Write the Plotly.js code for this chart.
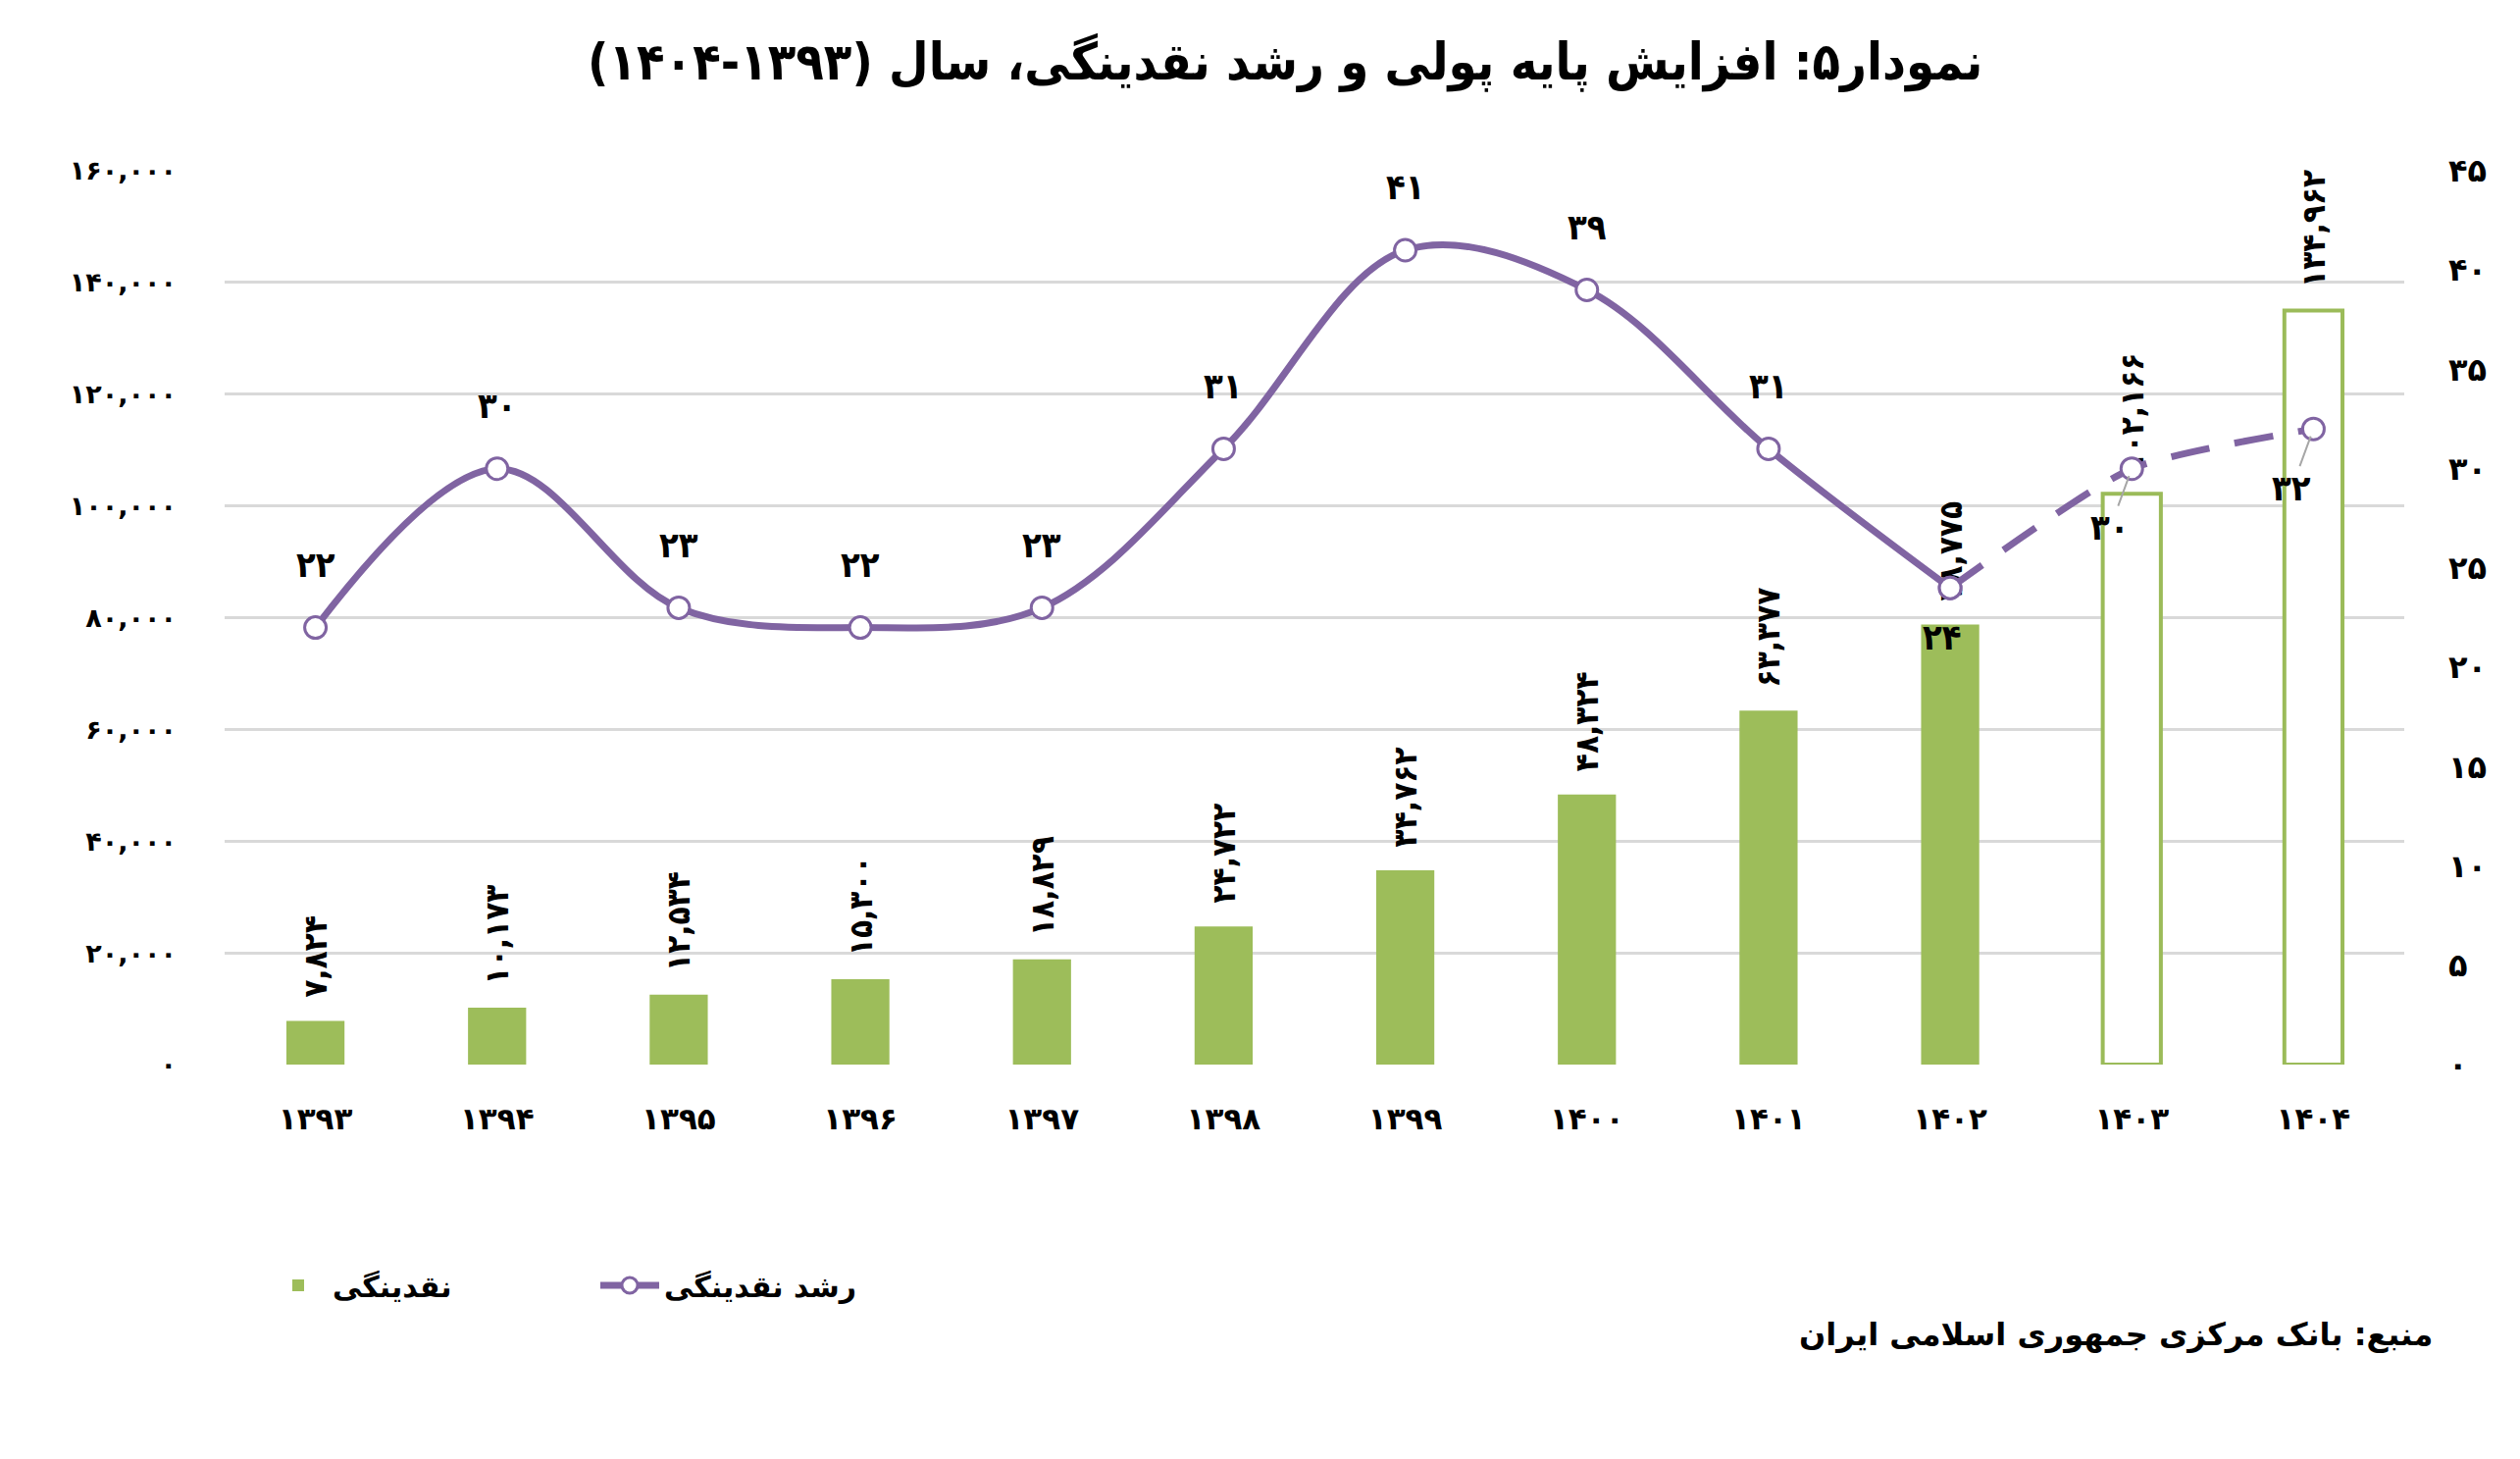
<!DOCTYPE html>
<html>
<head>
<meta charset="utf-8">
<script src="https://cdn.plot.ly/plotly-3.0.1.min.js"></script>
<style>
  html, body { margin: 0; padding: 0; background: #ffffff; }
  #chart { width: 2569px; height: 1487px; }
</style>
</head>
<body>
<div id="chart"></div>
<script>
    /****************************************************************************************
    * Data
    ****************************************************************************************/
    // years (solar hijri), shown in persian digits
    const years = ['۱۳۹۳', '۱۳۹۴', '۱۳۹۵', '۱۳۹۶', '۱۳۹۷', '۱۳۹۸', '۱۳۹۹', '۱۴۰۰', '۱۴۰۱', '۱۴۰۲', '۱۴۰۳', '۱۴۰۴'];
    // liquidity (thousand billion rials)
    const liquidity = [7824, 10173, 12534, 15300, 18829, 24722, 34762, 48324, 63377, 78775, 102166, 134962];
    // liquidity growth (percent)
    const growth = [22, 30, 23, 22, 23, 31, 41, 39, 31, 24, 30, 32];
    // index of the first forecast year (1403 onward)
    const firstForecast = 10;

    // axis ticks
    const leftTickVals = [0, 20000, 40000, 60000, 80000, 100000, 120000, 140000, 160000];
    const leftTickText = ['۰', '۲۰,۰۰۰', '۴۰,۰۰۰', '۶۰,۰۰۰', '۸۰,۰۰۰', '۱۰۰,۰۰۰', '۱۲۰,۰۰۰', '۱۴۰,۰۰۰', '۱۶۰,۰۰۰'];
    const rightTickVals = [0, 5, 10, 15, 20, 25, 30, 35, 40, 45];
    const rightTickText = ['۰', '۵', '۱۰', '۱۵', '۲۰', '۲۵', '۳۰', '۳۵', '۴۰', '۴۵'];

    // the year span is written so that it reads 1404-1393 on screen, as in the source
    const titleText = 'نمودار۵: افزایش پایه پولی و رشد نقدینگی، سال (۱۳۹۳-۱۴۰۴)';
    const barName = 'نقدینگی';
    const lineName = 'رشد نقدینگی';
    const sourceText = 'منبع: بانک مرکزی جمهوری اسلامی ایران';

    /****************************************************************************************
    * Helpers
    ****************************************************************************************/
    const FA_DIGITS = '۰۱۲۳۴۵۶۷۸۹';
    // convert latin digits to persian ones
    const toFa = (s) => String(s).replace(/[0-9]/g, (d) => FA_DIGITS[+d]);
    const fmt = (v) => toFa(v.toLocaleString('en-US'));

    const FONT = 'DejaVu Sans, sans-serif';
    const FONT_NARROW = 'DejaVu Sans Condensed, DejaVu Sans, sans-serif';
    const GREEN = '#9dbd5a';
    const GREEN_EDGE = '#9bbb59';
    const PURPLE = '#8064a2';

    /****************************************************************************************
    * Traces
    ****************************************************************************************/
    let barTrace = {
        type: 'bar',
        name: barName,
        x: years,
        y: liquidity,
        width: 0.32,
        text: liquidity.map((v) => '  ' + fmt(v)),
        textposition: 'outside',
        textangle: -90,
        constraintext: 'none',
        cliponaxis: false,
        textfont: { family: FONT_NARROW, size: 33, color: '#000000', weight: 'bold' },
        marker: {
            color: liquidity.map((v, i) => i >= firstForecast ? '#ffffff' : GREEN),
            line: {
                color: GREEN_EDGE,
                width: liquidity.map((v, i) => i >= firstForecast ? 4 : 0)
            }
        },
        yaxis: 'y',
        hoverinfo: 'skip'
    };

    let solidLine = {
        type: 'scatter',
        name: lineName,
        x: years.slice(0, firstForecast),
        y: growth.slice(0, firstForecast),
        mode: 'lines+markers',
        line: { color: PURPLE, width: 7, shape: 'spline', smoothing: 1 },
        marker: { size: 22, color: '#ffffff', line: { color: PURPLE, width: 3 } },
        yaxis: 'y2',
        cliponaxis: false,
        hoverinfo: 'skip'
    };

    let dashedLine = {
        type: 'scatter',
        name: lineName,
        showlegend: false,
        x: years.slice(firstForecast - 1),
        y: growth.slice(firstForecast - 1),
        mode: 'lines+markers',
        line: { color: PURPLE, width: 7, shape: 'spline', smoothing: 0.6, dash: '40px,26px' },
        marker: { size: 22, color: '#ffffff', line: { color: PURPLE, width: 3 } },
        yaxis: 'y2',
        cliponaxis: false,
        hoverinfo: 'skip'
    };

    /****************************************************************************************
    * Annotations: growth labels and source
    ****************************************************************************************/
    let annotations = growth.map((g, i) => {
        let a = {
            x: years[i],
            y: g,
            xref: 'x',
            yref: 'y2',
            text: toFa(g),
            font: { family: FONT_NARROW, size: 36, color: '#000000', weight: 'bold' },
            showarrow: false,
            yanchor: 'middle',
            yshift: 64
        };
        if (i === firstForecast - 1) {
            a.yshift = -50;
            a.xshift = -8;
        } else if (i >= firstForecast) {
            a.showarrow = true;
            a.arrowhead = 0;
            a.arrowwidth = 2;
            a.arrowcolor = '#a6a6a6';
            a.standoff = 8;
            a.ax = -22;
            a.ay = 60;
            delete a.yshift;
        }
        return a;
    });

    annotations.push({
        xref: 'paper',
        yref: 'paper',
        x: 1.014,
        y: -0.302,
        xanchor: 'right',
        yanchor: 'middle',
        text: sourceText,
        showarrow: false,
        font: { family: FONT, size: 32, color: '#000000', weight: 'bold' }
    });

    /****************************************************************************************
    * Layout
    ****************************************************************************************/
    let layout = {
        width: 2569,
        height: 1487,
        paper_bgcolor: '#ffffff',
        plot_bgcolor: '#ffffff',
        margin: { l: 229, r: 118, t: 174, b: 402 },
        showlegend: true,
        bargap: 0,
        title: {
            text: titleText,
            x: 0.51,
            xanchor: 'center',
            y: 0.958,
            yanchor: 'middle',
            font: { family: FONT_NARROW, size: 52, color: '#000000', weight: 'bold' }
        },
        xaxis: {
            type: 'category',
            range: [-0.5, years.length - 0.5],
            showgrid: false,
            showline: false,
            zeroline: false,
            ticks: '',
            ticklabelstandoff: 34,
            tickfont: { family: FONT, size: 31, color: '#000000', weight: 'bold' }
        },
        yaxis: {
            range: [0, 160000],
            tickvals: leftTickVals,
            ticktext: leftTickText,
            showgrid: true,
            gridcolor: '#d9d9d9',
            gridwidth: 3,
            zeroline: false,
            showline: false,
            ticks: '',
            ticklabelstandoff: 48,
            tickfont: { family: FONT, size: 27, color: '#000000', weight: 'bold' }
        },
        yaxis2: {
            range: [0, 45],
            overlaying: 'y',
            side: 'right',
            tickvals: rightTickVals,
            ticktext: rightTickText,
            showgrid: false,
            zeroline: false,
            showline: false,
            ticks: '',
            ticklabelstandoff: 44,
            tickfont: { family: FONT, size: 32, color: '#000000', weight: 'bold' }
        },
        legend: {
            orientation: 'h',
            x: 0.018,
            xanchor: 'left',
            y: -0.247,
            yanchor: 'middle',
            itemwidth: 60,
            entrywidth: 263,
            traceorder: 'normal',
            font: { family: FONT, size: 30, color: '#000000', weight: 'bold' }
        },
        annotations: annotations
    };

    Plotly.newPlot('chart', [barTrace, solidLine, dashedLine], layout, { staticPlot: true, displayModeBar: false });
</script>
</body>
</html>
